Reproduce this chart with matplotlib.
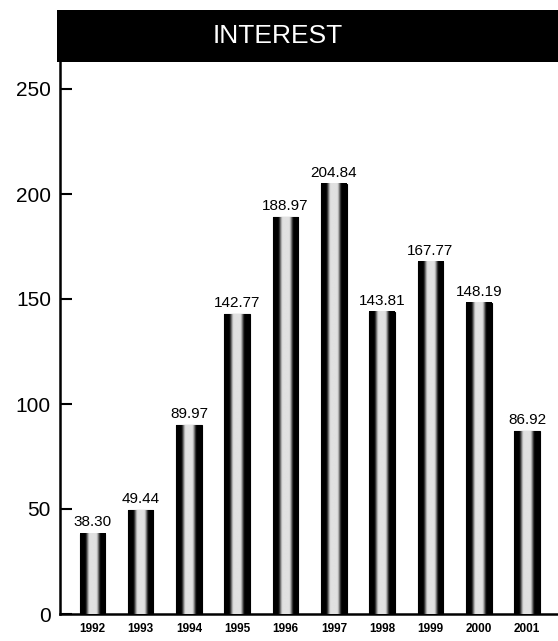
import numpy as np
import matplotlib
matplotlib.use("Agg")
import matplotlib.pyplot as plt

years = ["1992", "1993", "1994", "1995", "1996", "1997", "1998", "1999", "2000", "2001"]
values = [38.30, 49.44, 89.97, 142.77, 188.97, 204.84, 143.81, 167.77, 148.19, 86.92]
value_labels = ["38.30", "49.44", "89.97", "142.77", "188.97", "204.84", "143.81", "167.77", "148.19", "86.92"]
yticks = [0, 50, 100, 150, 200, 250]
title = "INTEREST"

plt.rcParams['font.family'] = ['Liberation Sans', 'DejaVu Sans']

W, H = 558, 641
fig = plt.figure(figsize=(W / 100, H / 100), dpi=100)

ax_l, ax_b, ax_t, ax_r = 60, 614, 62, 558
ax = fig.add_axes([ax_l / W, (H - ax_b) / H, (ax_r - ax_l) / W, (ax_b - ax_t) / H])

x = np.arange(len(years))
bars = ax.bar(x, values, width=0.53, color='black', edgecolor='black', linewidth=0.8, zorder=2)

# cylindrical shading: black edges, pale stippled-looking centre
t = np.linspace(-1, 1, 200)
r = np.clip((0.62 - np.abs(t)) / 0.38, 0, 1)
prof = (r * r * (3 - 2 * r)) * 0.88
grad = np.tile(prof, (2, 1))
for rect in bars:
    x0, w, h = rect.get_x(), rect.get_width(), rect.get_height()
    ax.imshow(grad, extent=(x0, x0 + w, 0, h), cmap='gray', vmin=0, vmax=1,
              aspect='auto', origin='lower', zorder=3, interpolation='bilinear')

ax.bar_label(bars, labels=value_labels, padding=3, fontsize=11, zorder=4)

ax.set_xlim(-0.67, 9.64)
ax.set_ylim(0, (ax_b - ax_t) / 2.1)
ax.set_xticks(x)
ax.set_xticklabels(years, fontsize=8.5, fontweight='bold')
ax.set_yticks(yticks)
ax.set_yticklabels([str(v) for v in yticks], fontsize=15)
ax.tick_params(axis='y', direction='in', length=8.6, width=1.5, pad=6.5)
ax.tick_params(axis='x', length=0, pad=6.5)
for s in ['top', 'right']:
    ax.spines[s].set_visible(False)
for s in ['left', 'bottom']:
    ax.spines[s].set_linewidth(1.8)

# title banner
bx0, by0, by1 = 57, 10, 62
bax = fig.add_axes([bx0 / W, (H - by1) / H, (W - bx0) / W, (by1 - by0) / H])
bax.set_facecolor('black')
bax.set_xticks([])
bax.set_yticks([])
for s in bax.spines.values():
    s.set_visible(False)
fig.text(278 / W, (H - 36) / H, title, color='white', fontsize=19,
         ha='center', va='center')

fig.savefig("out.png", dpi=100)
